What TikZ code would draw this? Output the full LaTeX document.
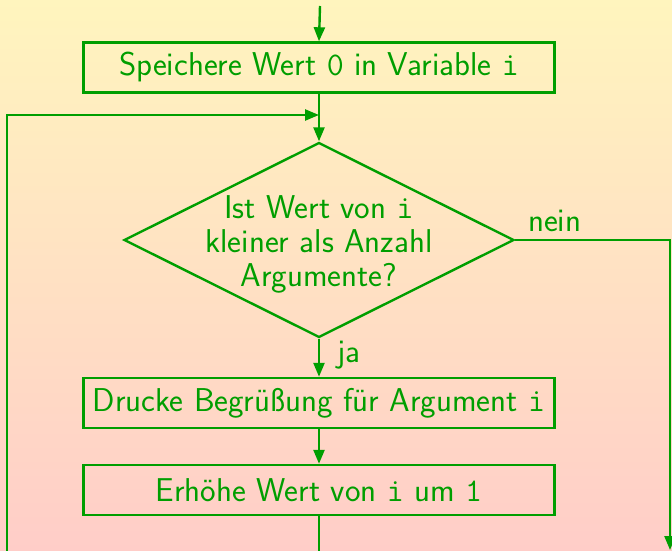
\documentclass[tikz,border=0pt]{standalone}
\usepackage{fontspec}
\usetikzlibrary{shapes.geometric,arrows.meta}
\definecolor{fg}{RGB}{0,158,0}
\definecolor{bgtop}{RGB}{255,245,190}
\definecolor{bgbot}{RGB}{255,205,200}
\tikzset{
  flow/.style={draw=fg, line width=2.4pt},
  arr/.style={flow, -{Triangle[length=14pt,width=11pt]}},
  procbox/.style={draw=fg, line width=2.4pt, minimum width=471pt, minimum height=50pt, inner sep=0pt, text=fg},
  decision/.style={draw=fg, line width=2.4pt, diamond, minimum width=390pt, minimum height=195pt, inner sep=0pt},
  lbl/.style={text=fg, inner sep=0pt},
  every node/.append style={font=\sffamily\fontsize{33}{34}\selectfont}
}
\begin{document}
\begin{tikzpicture}[x=1pt,y=-1pt]
\shade[top color=bgtop, bottom color=bgbot] (0,0) rectangle (672,551);
\useasboundingbox (0,0) rectangle (672,551);
\coordinate (start) at (320,6);
\node[procbox] (b1) at (319,67.5) {Speichere Wert \texttt{0} in Variable \texttt{i}};
\node[decision] (d) at (319,240) {};
\node[lbl, align=center] (dt) at (319,244) {Ist Wert von \texttt{i}\\kleiner als Anzahl\\Argumente?};
\node[procbox] (b2) at (319,403) {Drucke Begrüßung für Argument \texttt{i}};
\node[procbox] (b3) at (319,490) {Erhöhe Wert von \texttt{i} um \texttt{1}};
\coordinate (bot) at (319,551);
\coordinate (join) at (319,115);
\coordinate (ll) at (7,551);
\coordinate (lt) at (7,115);
\coordinate (rt) at (670,240);
\coordinate (rb) at (670,550);
\node[lbl, anchor=base west] (nein) at (528,231) {nein};
\node[lbl, anchor=base west] (ja) at (337,362) {ja};
\draw[arr] (start) -- (b1.north);
\draw[arr] (b1.south) -- (d.north);
\draw[arr] (d.south) -- (b2.north);
\draw[arr] (b2.south) -- (b3.north);
\draw[flow] (b3.south) -- (bot);
\draw[arr] (ll) -- (lt) -- (join);
\draw[arr] (d.east) -- (rt) -- (rb);
\end{tikzpicture}
\end{document}
